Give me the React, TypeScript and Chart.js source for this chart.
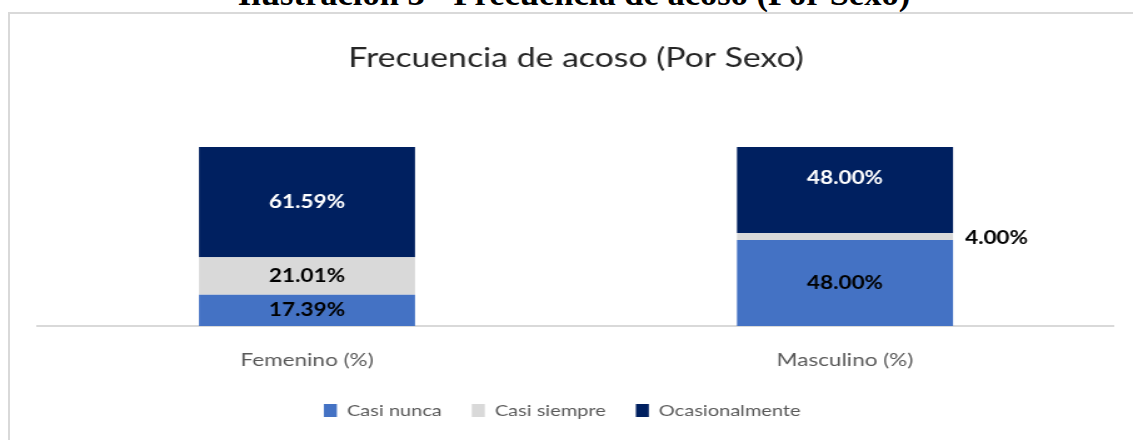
import React, { useEffect, useRef } from "react";
import { Chart, registerables } from "chart.js";

Chart.register(...registerables);

const CAPTION = "Ilustración 3 - Frecuencia de acoso (Por Sexo)";
const TITLE = "Frecuencia de acoso (Por Sexo)";
const categories = ["Femenino (%)", "Masculino (%)"];
const seriesLabels = ["Casi nunca", "Casi siempre", "Ocasionalmente"];
const casiNunca = [17.39, 48.0];
const casiSiempre = [21.01, 4.0];
const ocasionalmente = [61.59, 48.0];

const CSS_W = 1123;
const CSS_H = 426;
const STRETCH = 1.25;
const INT_W = Math.round(CSS_W / STRETCH);
const SX = CSS_W / INT_W;
const FONT = "Lato, 'Open Sans', sans-serif";

const labelPlugin = {
  id: "segLabels",
  afterDatasetsDraw(chart: any) {
    const ctx = chart.ctx;
    chart.data.datasets.forEach((ds: any, i: number) => {
      const meta = chart.getDatasetMeta(i);
      meta.data.forEach((el: any, j: number) => {
        const v = ds.data[j] as number;
        const { x, y, base, width } = el.getProps(["x", "y", "base", "width"], true);
        const h = Math.abs(base - y);
        const dy = ds.labelShift ? ds.labelShift[j] || 0 : 0;
        const cy = (y + base) / 2 + dy;
        const text = v.toFixed(2) + "%";
        ctx.save();
        ctx.font = `bold 18px ${FONT}`;
        ctx.textBaseline = "middle";
        if (h < 14) {
          ctx.textAlign = "left";
          ctx.fillStyle = "#000000";
          ctx.fillText(text, x + width / 2 + 9.6, cy + 2);
        } else {
          ctx.textAlign = "center";
          ctx.fillStyle = ds.labelColor;
          ctx.fillText(text, x, cy);
        }
        ctx.restore();
      });
    });
  },
};

const legendShiftPlugin = {
  id: "legendShift",
  afterLayout(chart: any) {
    if (chart.legend) {
      chart.legend.left -= 11;
      chart.legend.right -= 11;
    }
  },
};

export default function App() {
  const ref = useRef<HTMLCanvasElement>(null);
  useEffect(() => {
    const canvas = ref.current!;
    const datasets: any[] = [
      { label: seriesLabels[0], data: casiNunca, backgroundColor: "#4472C4", labelColor: "#000000" },
      { label: seriesLabels[1], data: casiSiempre, backgroundColor: "#D9D9D9", labelColor: "#000000" },
      { label: seriesLabels[2], data: ocasionalmente, backgroundColor: "#002060", labelColor: "#FFFFFF", labelShift: [0, -12] },
    ];
    const chart = new Chart(canvas, {
      type: "bar",
      data: { labels: categories, datasets },
      options: {
        responsive: false,
        animation: false,
        devicePixelRatio: 1,
        layout: { padding: { left: 28 / SX, right: INT_W - 1104 / SX, top: 0, bottom: 11.5 } },
        datasets: { bar: { categoryPercentage: 0.8, barPercentage: 0.502 } },
        scales: {
          x: {
            stacked: true,
            grid: { display: false, drawTicks: false },
            border: { display: true, color: "#D9D9D9", width: 2 },
            ticks: { color: "#595959", font: { family: FONT, size: 18 }, padding: 23 },
            afterFit: (scale: any) => {
              scale.height = 52.5;
            },
          },
          y: { stacked: true, display: false, min: 0, max: 100 },
        },
        plugins: {
          title: {
            display: true,
            text: TITLE,
            color: "#262626",
            font: { family: FONT, size: 27, weight: "normal" },
            padding: { top: 28, bottom: 72.6 },
          },
          legend: {
            position: "bottom",
            labels: {
              color: "#595959",
              font: { family: FONT, size: 16 },
              boxWidth: 10.4,
              boxHeight: 13,
              padding: 24,
            },
          },
          tooltip: { enabled: false },
        },
      } as any,
      plugins: [labelPlugin, legendShiftPlugin],
    });
    return () => chart.destroy();
  }, []);

  return (
    <div style={{ position: "fixed", left: 0, top: 0, width: 1133, height: 440, overflow: "hidden", background: "#ffffff" }}>
      <div
        style={{
          position: "absolute",
          left: 0,
          top: -24,
          width: 1148,
          textAlign: "center",
          fontFamily: "'Liberation Serif', 'Times New Roman', serif",
          fontWeight: "bold",
          fontSize: 34.5,
          lineHeight: "34.5px",
          whiteSpace: "nowrap",
          color: "#000000",
        }}
      >
        {CAPTION}
      </div>
      <div
        style={{
          position: "absolute",
          left: 8,
          top: 12,
          width: 1200,
          height: 500,
          boxSizing: "border-box",
          borderTop: "2px solid #D9D9D9",
          borderLeft: "2px solid #D9D9D9",
        }}
      />
      <canvas
        ref={ref}
        width={INT_W}
        height={CSS_H}
        style={{ position: "absolute", left: 10, top: 14, width: CSS_W, height: CSS_H, display: "block" }}
      />
    </div>
  );
}
